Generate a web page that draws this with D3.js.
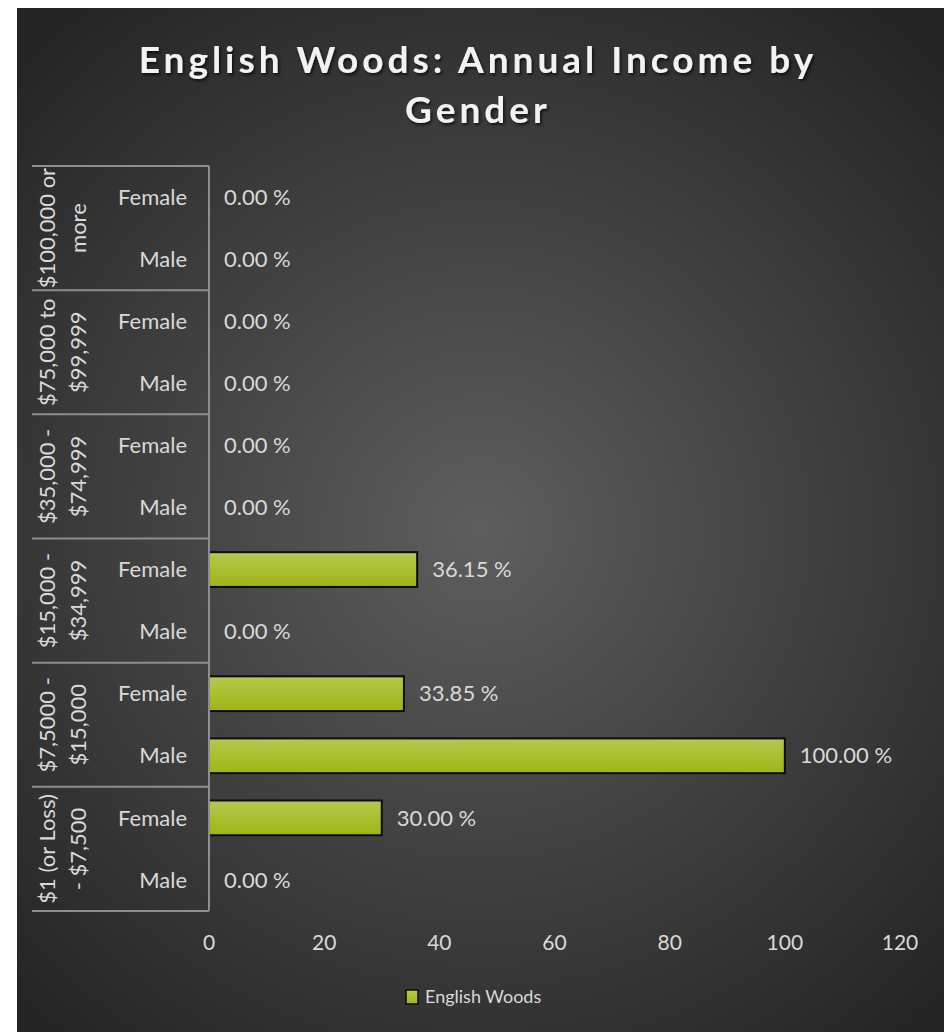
<!DOCTYPE html>
<html>
<head>
<meta charset="utf-8">
<script src="https://cdn.jsdelivr.net/npm/d3@7"></script>
<style>
  body { margin: 0; background: #fff; }
  text { font-family: Lato, "Open Sans", sans-serif; }
</style>
</head>
<body>
<div id="chart"></div>
<script>
// data
const groups = [
    ["$100,000 or", "more"],
    ["$75,000 to", "$99,999"],
    ["$35,000 -", "$74,999"],
    ["$15,000 -", "$34,999"],
    ["$7,5000 -", "$15,000"],
    ["$1 (or Loss)", "- $7,500"]
];
const genders = ["Female", "Male"];
const femaleValues = [0, 0, 0, 36.15, 33.85, 30.00];
const maleValues = [0, 0, 0, 0, 100.00, 0];
const xTicks = [0, 20, 40, 60, 80, 100, 120];
const seriesName = "English Woods";

const width = 949, height = 1032;
const plot = { left: 209, right: 900, top: 166, bottom: 911 };

const svg = d3.select("#chart").append("svg")
    .attr("width", width)
    .attr("height", height);

const defs = svg.append("defs");
const bg = defs.append("radialGradient")
    .attr("id", "bg")
    .attr("gradientUnits", "userSpaceOnUse")
    .attr("cx", 480).attr("cy", 530).attr("r", 650);
bg.append("stop").attr("offset", "0%").attr("stop-color", "#5e5e5e");
bg.append("stop").attr("offset", "100%").attr("stop-color", "#252525");

const barGrad = defs.append("linearGradient")
    .attr("id", "bar")
    .attr("x1", 0).attr("y1", 0).attr("x2", 0).attr("y2", 1);
barGrad.append("stop").attr("offset", "0%").attr("stop-color", "#b8c84e");
barGrad.append("stop").attr("offset", "100%").attr("stop-color", "#a0b414");

const shadow = defs.append("filter").attr("id", "shadow")
    .attr("x", "-10%").attr("y", "-20%").attr("width", "120%").attr("height", "150%");
shadow.append("feDropShadow")
    .attr("dx", 1.5).attr("dy", 2).attr("stdDeviation", 1.5)
    .attr("flood-color", "#000").attr("flood-opacity", 0.7);

svg.append("rect")
    .attr("x", 17).attr("y", 8)
    .attr("width", 927).attr("height", height - 8)
    .attr("fill", "url(#bg)");

// title
svg.append("text")
    .attr("x", 476)
    .attr("text-anchor", "middle")
    .attr("fill", "#f2f2f2")
    .attr("font-weight", "bold")
    .style("font-size", "37px")
    .style("letter-spacing", "4px")
    .attr("filter", "url(#shadow)")
    .selectAll("tspan")
    .data(["English Woods: Annual Income by", "Gender"])
    .join("tspan")
    .attr("x", 478)
    .attr("y", (d, i) => 73 + i * 50)
    .text(d => d);

// rows
const rows = [];
groups.forEach((g, gi) => {
    genders.forEach(sex => {
        rows.push({
            key: gi + "|" + sex,
            group: gi,
            sex,
            value: sex === "Female" ? femaleValues[gi] : maleValues[gi]
        });
    });
});

const x = d3.scaleLinear()
    .domain([0, 120])
    .range([plot.left, plot.right]);

const y = d3.scaleBand()
    .domain(rows.map(d => d.key))
    .range([plot.top, plot.bottom])
    .paddingInner(0.44)
    .paddingOuter(0.22);

const yGroup = d3.scaleBand()
    .domain(groups.map((g, i) => i))
    .range([plot.top, plot.bottom]);

const rowCenter = d => y(d.key) + y.bandwidth() / 2;

// bars
svg.append("g")
    .selectAll("rect")
    .data(rows.filter(d => d.value > 0))
    .join("rect")
    .attr("x", x(0))
    .attr("y", d => y(d.key))
    .attr("width", d => x(d.value) - x(0))
    .attr("height", y.bandwidth())
    .attr("fill", "url(#bar)")
    .attr("stroke", "#0d0d0d")
    .attr("stroke-width", 2);

// value labels
svg.append("g")
    .selectAll("text")
    .data(rows)
    .join("text")
    .attr("x", d => x(d.value) + 15)
    .attr("y", rowCenter)
    .attr("dy", "0.35em")
    .attr("fill", "#d9d9d9")
    .style("font-size", "22px")
    .text(d => d.value.toFixed(2) + " %");

// category axis: lines
const axisColor = "#8e8e8e";
const cat = svg.append("g");
cat.append("line")
    .attr("x1", x(0)).attr("x2", x(0))
    .attr("y1", plot.top).attr("y2", plot.bottom)
    .attr("stroke", axisColor).attr("stroke-width", 2);

const bounds = groups.map((g, i) => yGroup(i)).concat([plot.bottom]);
cat.selectAll(".sep")
    .data(bounds)
    .join("line")
    .attr("class", "sep")
    .attr("x1", 32).attr("x2", x(0))
    .attr("y1", d => d).attr("y2", d => d)
    .attr("stroke", axisColor).attr("stroke-width", 2);

// gender labels
cat.selectAll(".sex")
    .data(rows)
    .join("text")
    .attr("class", "sex")
    .attr("x", 187)
    .attr("y", rowCenter)
    .attr("dy", "0.35em")
    .attr("text-anchor", "end")
    .attr("fill", "#d9d9d9")
    .style("font-size", "22px")
    .text(d => d.sex);

// group labels, rotated
cat.selectAll(".grp")
    .data(groups)
    .join("text")
    .attr("class", "grp")
    .attr("transform", (d, i) => `translate(47,${yGroup(i) + yGroup.bandwidth() / 2}) rotate(-90)`)
    .attr("text-anchor", "middle")
    .attr("fill", "#d9d9d9")
    .style("font-size", "22px")
    .selectAll("tspan")
    .data(d => d)
    .join("tspan")
    .attr("x", 0)
    .attr("y", (d, i) => i * 31)
    .attr("dy", "0.35em")
    .text(d => d);

// value axis
svg.append("g")
    .selectAll("text")
    .data(xTicks)
    .join("text")
    .attr("x", d => x(d))
    .attr("y", 943)
    .attr("dy", "0.35em")
    .attr("text-anchor", "middle")
    .attr("fill", "#d9d9d9")
    .style("font-size", "21px")
    .text(d => d);

// legend
const legend = svg.append("g").attr("transform", "translate(406,997)");
legend.append("rect")
    .attr("x", 0).attr("y", -7)
    .attr("width", 12).attr("height", 14)
    .attr("fill", "url(#bar)")
    .attr("stroke", "#0d0d0d")
    .attr("stroke-width", 1.5);
legend.append("text")
    .attr("x", 19)
    .attr("dy", "0.35em")
    .attr("fill", "#d9d9d9")
    .style("font-size", "18px")
    .text(seriesName);
</script>
</body>
</html>
